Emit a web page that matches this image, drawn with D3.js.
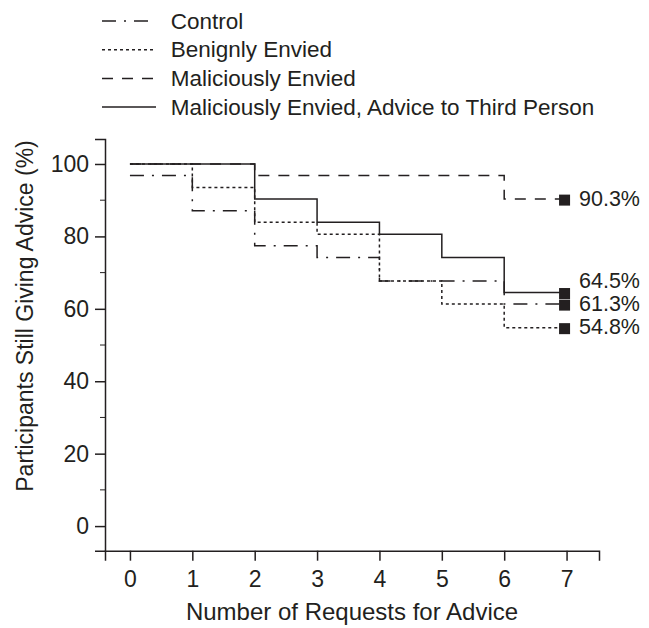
<html>
  <!DOCTYPE html>
  <meta charset="utf-8">
  <style>
    body { margin: 0; background: #fff; }
    text { font-family: "Liberation Sans", Arial, sans-serif; fill: #231f20; }
    .step { fill: none; stroke: #231f20; stroke-width: 1.5px; }
  </style>
  <body>
    <div id="viz"></div>
    <script src="https://d3js.org/d3.v7.min.js"></script>
    <script>
      // requests 0..7, value at 7 repeats the last step
      var requests = [0, 1, 2, 3, 4, 5, 6, 7];
      var groups = ["Control", "Benignly Envied", "Maliciously Envied", "Maliciously Envied, Advice to Third Person"];
      var control   = [96.8, 87.1, 77.4, 74.2, 67.7, 67.7, 61.3, 61.3];
      var benign    = [100, 93.5, 83.9, 80.6, 67.7, 61.3, 54.8, 54.8];
      var malicious = [100, 100, 96.8, 96.8, 96.8, 96.8, 90.3, 90.3];
      var thirdPers = [100, 100, 90.3, 83.9, 80.6, 74.2, 64.5, 64.5];
      var endLabels = ["61.3%", "54.8%", "90.3%", "64.5%"];
      var yTicks = [0, 20, 40, 60, 80, 100];
      var yMinor = [10, 30, 50, 70, 90];

      var dashes = ["14,8,2,8", "3,3", "11,9", null];
      var series = [control, benign, malicious, thirdPers];

      var svg = d3.select("#viz").append("svg")
        .attr("width", 649)
        .attr("height", 628);

      var x = d3.scaleLinear().domain([-0.4, 7.52]).range([105, 599]);
      var y = d3.scaleLinear().domain([-6.8, 106.9]).range([550.7, 139]);

      // x axis
      var xAxis = svg.append("g")
        .attr("transform", "translate(0,550.7)")
        .call(d3.axisBottom(x).tickValues(requests).tickSize(10).tickPadding(10).tickFormat(d3.format("d")));
      xAxis.selectAll("text").style("font-size", "23px").attr("fill", "#231f20");

      // y axis
      var yAxis = svg.append("g")
        .attr("transform", "translate(105,0)")
        .call(d3.axisLeft(y).tickValues(yTicks).tickSize(10).tickPadding(6));
      yAxis.selectAll("text").style("font-size", "23px").attr("fill", "#231f20");
      yAxis.selectAll(".minor").data(yMinor).enter().append("line")
        .attr("x1", -5).attr("x2", 0)
        .attr("y1", function(d) { return y(d); })
        .attr("y2", function(d) { return y(d); })
        .attr("stroke", "#231f20");

      svg.selectAll(".domain, .tick line").attr("stroke", "#231f20").attr("stroke-width", 1.5);

      // titles
      svg.append("text")
        .attr("x", 352).attr("y", 620)
        .attr("text-anchor", "middle")
        .style("font-size", "24px")
        .text("Number of Requests for Advice");
      svg.append("text")
        .attr("transform", "translate(33,316) rotate(-90)")
        .attr("text-anchor", "middle")
        .style("font-size", "23px")
        .text("Participants Still Giving Advice (%)");

      // step lines
      var line = d3.line()
        .x(function(d, i) { return x(requests[i]); })
        .y(function(d) { return y(d); })
        .curve(d3.curveStepAfter);

      series.forEach(function(s, k) {
        svg.append("path")
          .attr("class", "step")
          .attr("d", line(s))
          .attr("stroke-dasharray", dashes[k]);
      });

      // end markers
      var last = requests.length - 1;
      series.forEach(function(s) {
        svg.append("rect")
          .attr("x", x(requests[last]) - 2 - 5.5)
          .attr("y", y(s[last]) + 1 - 5.5)
          .attr("width", 11).attr("height", 11)
          .attr("fill", "#231f20");
      });

      // end labels, pushed apart from the bottom up
      var lab = series.map(function(s, k) { return { t: endLabels[k], y: y(s[last]) - 1 }; })
        .sort(function(a, b) { return b.y - a.y; });
      for (var i = 1; i < lab.length; i++) {
        lab[i].y = Math.min(lab[i].y, lab[i - 1].y - 23);
      }
      svg.selectAll(".endlab").data(lab).enter().append("text")
        .attr("x", 579).attr("y", function(d) { return d.y; })
        .attr("dy", "0.35em")
        .style("font-size", "21.5px")
        .text(function(d) { return d.t; });

      // legend
      var leg = svg.append("g");
      groups.forEach(function(g, i) {
        var by = 28.5 + 28.7 * i;
        leg.append("line")
          .attr("x1", 102).attr("x2", 156)
          .attr("y1", by - 7.5).attr("y2", by - 7.5)
          .attr("stroke", "#231f20").attr("stroke-width", 1.5)
          .attr("stroke-dasharray", dashes[i]);
        leg.append("text")
          .attr("x", 170.7).attr("y", by)
          .style("font-size", "22.5px")
          .text(g);
      });
    </script>
  </body>
</html>
